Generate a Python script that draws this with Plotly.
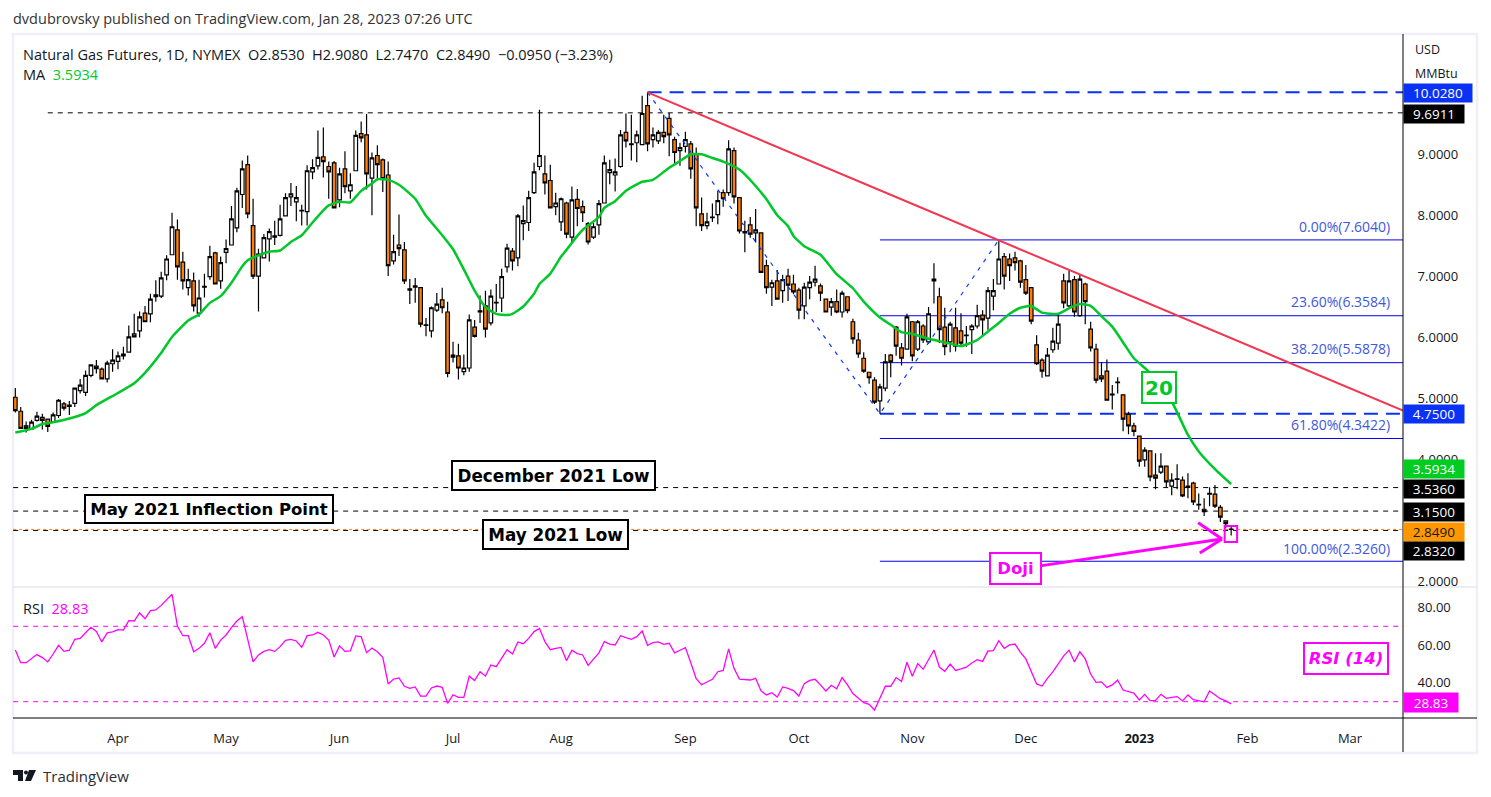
import plotly.graph_objects as go

W, H = 1491, 797
Y_STRETCH = 797 / 794   # the page comes out a touch short, so pixel positions are stretched to land right

opens = [5.02,4.79,4.55,4.50,4.64,4.69,4.66,4.61,4.72,4.91,
    4.89,4.92,5.13,5.10,5.38,5.53,5.48,5.32,5.57,5.61,
    5.73,5.76,6.06,6.11,6.40,6.39,6.70,6.68,7.03,7.36,
    7.77,7.24,6.82,6.93,6.40,6.83,7.00,7.39,6.93,7.40,
    7.52,7.80,8.35,8.84,7.84,7.01,7.31,7.62,7.67,7.68,
    8.00,8.31,8.23,8.08,8.07,8.72,8.82,8.97,8.81,8.87,
    8.26,8.77,8.41,8.74,9.35,9.33,8.62,8.99,8.92,8.67,
    7.26,7.52,7.44,6.80,6.83,6.82,6.20,6.11,6.45,6.62,
    6.42,5.68,5.70,5.44,5.50,6.17,6.44,6.52,6.24,6.57,
    6.65,7.16,7.42,7.31,7.87,7.89,8.38,8.81,8.69,8.58,
    8.15,7.90,8.21,7.65,8.27,8.15,7.87,7.65,7.85,8.21,
    8.71,8.67,8.81,9.37,9.18,9.20,9.17,9.81,9.25,9.23,
    9.37,9.60,9.25,9.07,9.14,9.18,9.02,8.03,7.84,7.98,
    8.02,8.38,8.38,9.07,8.30,7.74,7.85,7.72,7.72,7.18,
    6.83,6.93,6.77,7.01,6.88,6.78,6.52,6.82,6.91,6.85,
    6.63,6.50,6.59,6.42,6.67,6.26,5.96,5.66,5.43,5.30,
    4.96,5.17,5.71,6.17,5.83,5.81,6.26,5.81,6.19,5.93,
    6.96,6.67,6.17,5.93,6.16,6.11,6.04,6.13,6.19,6.37,
    6.32,6.68,6.88,7.33,7.29,7.31,7.26,6.95,6.82,5.88,
    5.63,5.37,5.80,5.91,6.93,6.52,6.95,6.36,6.88,6.14,
    5.81,5.37,5.45,5.07,5.26,5.06,4.74,4.55,4.38,3.99,
    4.14,3.74,3.79,3.89,3.56,3.67,3.66,3.56,3.61,3.26,
    3.18,3.43,3.43,3.21,2.99,2.853]

closes = [4.80,4.51,4.51,4.61,4.71,4.64,4.54,4.73,4.97,4.84,
    4.87,5.17,5.22,5.38,5.55,5.49,5.32,5.58,5.63,5.70,
    5.70,6.01,6.01,6.34,6.26,6.63,6.67,6.98,7.29,7.82,
    7.16,6.93,6.95,6.52,6.65,6.84,7.33,6.88,7.23,7.46,
    7.95,8.41,8.77,8.03,7.01,7.37,7.64,7.74,7.65,7.95,
    8.30,8.36,8.30,8.09,8.74,8.79,8.96,8.89,8.72,8.13,
    8.69,8.48,8.51,9.32,9.28,8.69,8.95,8.84,8.61,7.18,
    7.41,7.46,6.93,6.78,6.85,6.22,6.21,6.49,6.55,6.49,
    5.41,5.71,5.50,5.50,6.29,6.02,6.42,6.14,6.68,6.58,
    7.00,7.47,7.26,8.00,7.92,8.30,8.72,8.99,8.54,8.13,
    8.21,8.28,7.70,8.26,8.12,8.05,7.57,7.82,8.20,8.87,
    8.76,8.72,9.33,9.23,9.17,9.33,9.68,9.18,9.33,9.37,
    9.30,9.33,9.04,9.12,9.25,8.77,8.13,7.84,7.90,7.97,
    8.25,8.28,9.10,8.31,7.75,7.72,7.70,7.77,7.07,6.82,
    6.90,6.63,6.95,6.86,6.75,6.45,6.83,6.91,6.96,6.73,
    6.42,6.59,6.42,6.73,6.44,5.98,5.73,5.45,5.34,4.94,
    5.19,5.60,5.60,5.86,5.66,6.34,5.70,6.26,5.96,6.39,
    6.93,6.13,5.85,6.22,5.86,5.91,6.03,6.19,6.36,6.29,
    6.77,6.77,7.29,7.01,7.18,7.23,6.91,6.73,6.27,5.57,
    5.45,5.71,5.94,6.22,6.57,6.93,6.42,6.96,6.59,5.83,
    5.30,5.32,4.97,5.06,5.27,4.66,4.55,4.46,3.97,4.15,
    3.71,3.69,3.89,3.63,3.66,3.68,3.40,3.54,3.30,3.25,
    3.14,3.44,3.23,3.05,2.944,2.849]

highs = [5.17,4.86,4.62,4.65,4.78,4.75,4.66,4.77,4.99,4.94,
    4.96,5.18,5.32,5.46,5.55,5.63,5.51,5.62,5.81,5.77,
    5.85,6.20,6.39,6.43,6.52,6.72,6.94,7.08,7.35,8.05,
    7.94,7.41,7.13,7.07,6.95,7.05,7.51,7.41,7.33,7.61,
    8.16,8.46,8.91,8.99,8.28,7.46,7.70,7.79,7.92,8.18,
    8.37,8.54,8.49,8.18,8.83,8.93,9.40,9.45,8.89,8.90,
    8.79,9.06,8.70,9.40,9.55,9.67,9.04,9.16,8.94,8.89,
    7.69,8.02,7.57,6.96,6.98,6.83,6.32,6.51,6.73,6.82,
    6.59,5.93,5.90,5.72,6.38,6.29,6.69,6.77,6.79,6.88,
    7.13,7.54,7.47,8.03,8.17,8.41,8.87,9.74,8.99,8.84,
    8.38,8.30,8.23,8.48,8.44,8.25,7.90,7.89,8.26,8.99,
    8.92,8.94,9.41,9.68,9.66,9.40,9.97,10.028,9.45,9.41,
    9.66,9.69,9.30,9.20,9.38,9.23,9.12,8.30,8.05,8.20,
    8.41,8.43,9.24,9.12,8.31,7.92,7.98,8.11,7.72,7.28,
    6.95,7.11,7.03,7.13,7.03,6.82,6.90,7.01,7.18,6.89,
    6.63,6.65,6.79,6.77,6.68,6.31,6.08,5.76,5.43,5.35,
    5.24,5.73,5.73,6.19,5.91,6.39,6.27,6.29,6.22,6.50,
    7.22,6.82,6.49,6.26,6.49,6.40,6.19,6.22,6.54,6.45,
    6.83,6.96,7.604,7.39,7.38,7.41,7.28,7.19,6.83,6.04,
    5.66,5.83,6.16,6.37,7.05,7.10,7.01,7.03,6.90,6.26,
    5.90,5.60,5.64,5.22,5.35,5.07,4.78,4.60,4.38,4.20,
    4.15,4.10,4.10,3.89,3.77,3.92,3.72,3.77,3.63,3.44,
    3.36,3.54,3.58,3.25,2.99,2.908]

lows = [4.77,4.50,4.44,4.50,4.62,4.49,4.45,4.60,4.68,4.80,
    4.73,4.86,5.08,5.04,5.35,5.41,5.32,5.26,5.44,5.48,
    5.64,5.76,6.01,6.00,6.26,6.25,6.59,6.65,6.94,7.36,
    6.95,6.79,6.69,6.43,6.34,6.66,6.95,6.88,6.80,7.22,
    7.52,7.73,8.13,7.96,6.96,6.43,7.31,7.25,7.52,7.66,
    8.00,8.16,7.91,7.84,7.84,8.60,8.76,8.63,8.28,8.13,
    8.14,8.37,8.28,8.74,9.21,8.43,8.01,8.62,8.39,7.01,
    7.20,7.34,6.88,6.55,6.57,6.17,6.02,6.00,6.42,6.40,
    5.35,5.59,5.31,5.38,5.44,6.00,6.24,6.00,6.20,6.42,
    6.42,7.07,7.10,7.17,7.60,7.75,8.36,8.75,8.35,8.12,
    8.01,7.75,7.63,7.55,7.83,7.90,7.53,7.62,7.69,8.20,
    8.52,8.40,8.79,9.12,8.91,8.88,9.17,9.06,9.12,9.18,
    9.19,8.98,8.86,8.82,9.04,8.61,7.83,7.75,7.78,7.90,
    7.86,8.15,8.33,8.20,7.71,7.40,7.64,7.56,7.06,6.72,
    6.52,6.62,6.57,6.60,6.71,6.30,6.30,6.63,6.84,6.60,
    6.42,6.36,6.40,6.33,6.40,5.90,5.67,5.42,5.24,4.91,
    4.75,5.12,5.35,5.70,5.54,5.81,5.61,5.78,5.91,5.90,
    6.56,5.91,5.71,5.76,5.77,5.86,5.85,5.73,6.15,6.04,
    6.13,6.45,6.88,6.79,6.93,7.10,6.82,6.70,6.22,5.55,
    5.34,5.37,5.75,5.80,6.48,6.50,6.34,6.34,6.22,5.77,
    5.25,5.27,4.97,4.82,5.08,4.46,4.41,4.38,3.88,3.88,
    3.64,3.51,3.76,3.53,3.41,3.51,3.38,3.36,3.25,3.17,
    3.07,3.23,3.20,2.97,2.87,2.747]

rsi_values = [57.4,50.7,50.7,53.0,55.0,53.4,51.1,55.3,59.9,56.7,
    57.3,63.1,63.6,66.6,69.5,67.3,61.7,66.5,67.0,68.2,
    68.0,73.0,72.8,77.1,74.0,78.3,78.7,81.1,83.8,87.0,
    70.0,65.0,65.0,56.5,58.3,61.0,66.6,58.3,62.7,65.4,
    69.3,72.8,75.1,63.4,51.1,54.8,56.7,57.6,56.7,59.2,
    62.6,63.1,62.2,58.8,65.0,65.4,66.8,65.4,62.7,53.7,
    59.6,56.7,56.9,64.9,64.5,56.0,58.5,56.5,53.5,39.4,
    42.0,42.6,38.2,37.1,37.8,33.0,33.0,37.3,38.3,37.6,
    29.1,33.7,32.3,32.3,43.5,41.2,45.9,43.6,49.5,48.6,
    53.0,57.6,55.3,61.7,60.8,63.6,67.2,68.9,61.9,57.6,
    58.3,58.8,51.8,57.3,55.5,54.8,49.3,52.5,55.9,61.9,
    60.6,60.1,65.0,64.0,63.1,64.5,67.5,59.9,61.3,61.7,
    60.4,61.0,55.9,57.3,58.7,50.7,42.2,39.0,40.5,41.9,
    45.9,46.6,58.0,47.7,42.0,41.9,41.5,42.4,35.7,33.6,
    34.8,32.5,37.8,37.1,35.9,33.0,39.6,41.3,41.9,38.9,
    35.7,38.7,36.9,42.8,38.9,34.3,31.8,29.5,28.6,25.6,
    31.8,38.2,38.2,42.8,40.8,50.9,43.5,50.2,47.2,52.3,
    57.4,48.4,46.1,50.0,46.6,47.4,48.3,50.5,52.3,51.4,
    56.9,57.1,62.4,58.3,60.1,60.6,56.2,52.7,45.9,39.4,
    38.3,42.4,45.8,50.0,54.3,57.4,51.1,56.5,52.7,44.7,
    40.3,40.5,37.6,38.9,41.5,36.2,35.3,34.6,30.9,33.9,
    30.6,30.7,33.9,31.8,32.3,32.7,30.4,33.6,31.1,30.7,
    29.9,35.7,33.6,31.6,30.4,28.83]

ma_bars = [0,3,5,7,10,13,15,19,22,24,27,29,32,34,36,38,40,42,43,45,47,49,51,53,55,57,58,60,62,64,66,67,69,71,74,76,79,81,83,85,87,89,91,92,94,96,97,99,101,102,104,105,108,109,111,113,116,118,121,123,125,127,129,131,134,137,139,141,143,144,146,149,152,155,157,160,162,164,166,169,173,175,178,180,182,184,186,188,190,193,195,197,199,201,203,205,207,210,214,217,219,222,225]
ma_values = [4.44,4.50,4.58,4.61,4.67,4.76,4.89,5.09,5.25,5.42,5.75,6.01,6.28,6.38,6.57,6.68,6.90,7.17,7.27,7.35,7.41,7.43,7.57,7.68,7.89,8.09,8.17,8.23,8.22,8.41,8.53,8.60,8.59,8.51,8.28,8.00,7.68,7.45,7.12,6.77,6.50,6.39,6.37,6.39,6.51,6.72,6.88,7.05,7.33,7.44,7.67,7.77,7.98,8.13,8.24,8.41,8.56,8.59,8.79,8.90,9.01,9.01,8.95,8.89,8.76,8.49,8.27,8.01,7.83,7.67,7.50,7.36,7.04,6.81,6.59,6.33,6.21,6.09,6.06,5.98,5.90,5.86,5.96,6.10,6.24,6.39,6.49,6.52,6.41,6.39,6.48,6.55,6.52,6.35,6.18,5.92,5.66,5.42,4.95,4.40,4.13,3.84,3.5934]

month_bars = [19,39,60,81,101,124,145,166,187,208,228,247]
month_labels = ['Apr','May','Jun','Jul','Aug','Sep','Oct','Nov','Dec','<b>2023</b>','Feb','Mar']

price_ticks = [2,4,5,6,7,8,9]
rsi_ticks = [40,60,80]

fib_levels = [7.604,6.3584,5.5878,4.3422,2.326]
fib_labels = ['0.00%(7.6040)','23.60%(6.3584)','38.20%(5.5878)','61.80%(4.3422)','100.00%(2.3260)']
support_levels = [9.6911,3.536,3.15,2.832]
swing_bars = [117,160,182]
swing_prices = [10.028,4.75,7.604]

BLACK = '#131722'
GREEN = '#00c82a'
MAGENTA = '#ff00ff'
BLUE = '#0a32f5'
FIB_BLUE = '#0000f0'
ORANGE = '#ff7f0a'
FIB_TEXT = '#3d57e0'
FONT = 'Open Sans'
BOLD_FONT = 'DejaVu Sans'

X0, X1 = 13, 1403       # plot edges in page pixels
PRICE_TOP, PANE_SPLIT, RSI_BOTTOM = 34, 587, 718
LAST_X = 256.8


def px(p):
    return p / W


def py(p):
    return 1 - p * Y_STRETCH / H


fig = go.Figure()

fig.add_trace(go.Candlestick(
    x=list(range(len(opens))), open=opens, high=highs, low=lows, close=closes,
    increasing=dict(line=dict(color='black', width=1.2), fillcolor='white'),
    decreasing=dict(line=dict(color='black', width=1.2), fillcolor=ORANGE),
    whiskerwidth=0, showlegend=False, hoverinfo='skip',
))
fig.add_trace(go.Scatter(x=ma_bars, y=ma_values, mode='lines',
                         line=dict(color=GREEN, width=2.5, shape='spline', smoothing=0.5),
                         showlegend=False, hoverinfo='skip'))
fig.add_trace(go.Scatter(x=list(range(len(rsi_values))), y=rsi_values, mode='lines', yaxis='y2',
                         line=dict(color=MAGENTA, width=1.3), showlegend=False, hoverinfo='skip'))
fig.add_trace(go.Scatter(x=swing_bars, y=swing_prices, mode='lines',
                         line=dict(color=BLUE, width=1.2, dash='4px,6px'),
                         showlegend=False, hoverinfo='skip'))

shapes = []


def hline(x0, x1, y, color, width, dash='solid', yref='y', layer='below'):
    shapes.append(dict(type='line', xref='x', yref=yref, x0=x0, x1=x1, y0=y, y1=y, layer=layer,
                       line=dict(color=color, width=width, dash=dash)))


hline(6, LAST_X, support_levels[0], 'black', 1, '5px,5px')
for lvl in support_levels[1:]:
    hline(-0.4, LAST_X, lvl, 'black', 1, '5px,5px')
hline(-0.4, LAST_X, 2.849, ORANGE, 1, 'dot')
hline(117, LAST_X, 10.028, BLUE, 2, '14px,8px')
hline(160, LAST_X, 4.75, BLUE, 2, '14px,8px')
for lvl in fib_levels:
    hline(160, LAST_X, lvl, FIB_BLUE, 1)
hline(-0.4, LAST_X, 70, MAGENTA, 1, '5px,5px', yref='y2')
hline(-0.4, LAST_X, 30, MAGENTA, 1, '5px,5px', yref='y2')

# trendline from the August high
shapes.append(dict(type='line', xref='x', yref='y', x0=117, y0=10.028, x1=LAST_X, y1=4.8,
                   line=dict(color='#f23650', width=2)))

# Doji arrow and box
for (x0, y0, x1, y1) in [(189.6, 2.25, 223.3, 2.69), (218.9, 2.96, 223.3, 2.69), (219.2, 2.46, 223.3, 2.69)]:
    shapes.append(dict(type='line', xref='x', yref='y', x0=x0, y0=y0, x1=x1, y1=y1,
                       line=dict(color=MAGENTA, width=3)))
shapes.append(dict(type='rect', xref='x', yref='y', x0=223.8, x1=226.1, y0=2.643, y1=2.906,
                   line=dict(color=MAGENTA, width=2)))

# frame and pane separators, page pixels
FRAME = '#eff0f7'
shapes.append(dict(type='rect', xref='paper', yref='paper', x0=px(13), x1=px(1477), y0=py(753), y1=py(34),
                   line=dict(color=FRAME, width=2.5), layer='below'))
for (a, b, c, d, col, wid) in [
        (13, PANE_SPLIT, 1477, PANE_SPLIT, '#e4e6ee', 1.5),
        (13, RSI_BOTTOM, 1477, RSI_BOTTOM, 'black', 1),
        (X1, 34, X1, 752, 'black', 1)]:
    shapes.append(dict(type='line', xref='paper', yref='paper', x0=px(a), x1=px(c), y0=py(b), y1=py(d),
                       line=dict(color=col, width=wid)))

# TradingView logo
shapes.append(dict(type='path', xref='paper', yref='paper', fillcolor=BLACK, line=dict(width=0),
                   path=f'M {px(13)} {py(770)} L {px(23)} {py(770)} L {px(23)} {py(781)} L {px(18)} {py(781)} '
                        f'L {px(18)} {py(775)} L {px(13)} {py(775)} Z'))
shapes.append(dict(type='circle', xref='paper', yref='paper', fillcolor=BLACK, line=dict(width=0),
                   x0=px(24), x1=px(28), y0=py(774.5), y1=py(770.5)))
shapes.append(dict(type='path', xref='paper', yref='paper', fillcolor=BLACK, line=dict(width=0),
                   path=f'M {px(29)} {py(770)} L {px(36)} {py(770)} L {px(31)} {py(781)} L {px(25)} {py(781)} Z'))

notes = []


def page_text(x, y, text, size=13, color=BLACK, font=FONT, anchor='left'):
    notes.append(dict(xref='paper', yref='paper', x=px(x - 2), y=py(y), text=text, showarrow=False,
                      xanchor=anchor, yanchor='middle', font=dict(family=font, size=size, color=color)))


def boxed(x, y, text, w, h, color, size, border_color):
    notes.append(dict(xref='paper', yref='paper', x=px(x), y=py(y), text=text, showarrow=False,
                      width=w, height=h, xanchor='center', yanchor='middle', bgcolor='white',
                      bordercolor=border_color, borderwidth=2, borderpad=0,
                      font=dict(family=BOLD_FONT, size=size, color=color)))


def tag(y, text, bg, fg='white', w=60, h=18):
    notes.append(dict(xref='paper', yref='paper', x=px(X1), y=py(y), text=text, showarrow=False,
                      width=w, height=h, xanchor='left', yanchor='middle', bgcolor=bg, borderpad=0,
                      font=dict(family=FONT, size=13.5, color=fg)))


page_text(13, 19, 'dvdubrovsky published on TradingView.com, Jan 28, 2023 07:26 UTC', size=14.5, color='#333')
page_text(23, 54, 'Natural Gas Futures, 1D, NYMEX&nbsp;&nbsp;O2.8530&nbsp;&nbsp;H2.9080&nbsp;&nbsp;L2.7470&nbsp;&nbsp;'
                  'C2.8490&nbsp;&nbsp;−0.0950 (−3.23%)', size=14.5)
page_text(23, 75, f'MA&nbsp;&nbsp;<span style="color:#00c82a">3.5934</span>', size=14.5)
page_text(23, 608, f'RSI&nbsp;&nbsp;<span style="color:#ff00ff">28.83</span>', size=14.5)
page_text(1415, 50, 'USD', size=12.5)
page_text(1415, 73, 'MMBtu', size=12.5)
page_text(43, 776, 'TradingView', size=15, color='#2a2e39')

for (label, lvl, off) in zip(fib_labels, fib_levels, [-13, -14, -14, -14, -13]):
    notes.append(dict(xref='x', yref='y', x=254.7, y=lvl, yshift=-off, text=label, showarrow=False,
                      xanchor='right', yanchor='middle', font=dict(family=FONT, size=14, color=FIB_TEXT)))

boxed(553, 475.5, '<b>December 2021 Low</b>', 201, 27, 'black', 16.8, 'black')
boxed(208.5, 509, '<b>May 2021 Inflection Point</b>', 246, 26, 'black', 16.5, 'black')
boxed(555, 534, '<b>May 2021 Low</b>', 143, 27, 'black', 16.8, 'black')
boxed(1159, 387, '<b>20</b>', 32, 29, GREEN, 20, GREEN)
boxed(1015, 569, '<b>Doji</b>', 49, 29, MAGENTA, 16.5, MAGENTA)
boxed(1346, 658, '<b><i>RSI (14)</i></b>', 82, 29, MAGENTA, 16.5, MAGENTA)

tag(93, '10.0280', BLUE, w=68)
tag(114, '9.6911', 'black')
tag(414, '4.7500', BLUE)
tag(469, '3.5934', '#00cc22')
tag(489, '3.5360', 'black')
tag(512, '3.1500', 'black')
tag(532, '2.8490', '#ff9800', fg=BLACK)
tag(551, '2.8320', 'black')
tag(702, '28.83', MAGENTA, w=54, h=19)

fig.update_layout(
    width=W, height=H,
    margin=dict(l=0, r=0, t=0, b=0),
    paper_bgcolor='white', plot_bgcolor='white',
    showlegend=False,
    boxgap=0.05,
    shapes=shapes,
    annotations=notes,
    xaxis=dict(
        domain=[px(X0), px(X1)], range=[-0.43, LAST_X], anchor='y2',
        tickmode='array', tickvals=month_bars, ticktext=month_labels,
        ticks='outside', ticklen=8, tickcolor='white',
        tickfont=dict(family=FONT, size=13, color=BLACK),
        showgrid=False, zeroline=False, showline=False,
        rangeslider=dict(visible=False),
    ),
    yaxis=dict(
        domain=[py(PANE_SPLIT), py(PRICE_TOP)], range=[1.903, 10.986], side='right',
        tickmode='array', tickvals=price_ticks, ticktext=[f'{t:.4f}' for t in price_ticks],
        ticks='outside', ticklen=11, tickcolor='white',
        tickfont=dict(family=FONT, size=13, color=BLACK),
        showgrid=False, zeroline=False, showline=False, anchor='x',
    ),
    yaxis2=dict(
        domain=[py(RSI_BOTTOM), py(PANE_SPLIT)], range=[21.35, 90.85], side='right',
        tickmode='array', tickvals=rsi_ticks, ticktext=[f'{t:.2f}' for t in rsi_ticks],
        ticks='outside', ticklen=11, tickcolor='white',
        tickfont=dict(family=FONT, size=13, color=BLACK),
        showgrid=False, zeroline=False, showline=False, anchor='x',
    ),
)

fig.write_html(
    "out.html",
    config={'displayModeBar': False},
    post_script="document.documentElement.style.overflow='hidden';"
                "document.body.style.margin='0';document.body.style.overflow='hidden';"
                "document.body.style.height='797px';",
)
